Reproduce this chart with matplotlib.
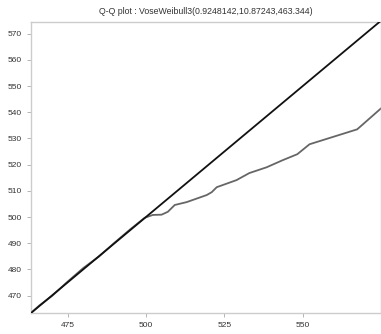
import numpy as np
import matplotlib
matplotlib.use("Agg")
import matplotlib.pyplot as plt

# distribution params
x_min = 463.344
x_max = 575.0

# theoretical quantiles vs. sample quantiles
qq_x = [463.3, 466, 470, 475, 480, 485, 490, 495, 499.6, 502.2, 505, 507, 509.2,
        513, 519.4, 521, 522.6, 528.9, 533, 538.5, 543.6, 548.3, 552.2, 567.4, 575]
qq_y = [463.3, 466.2, 469.8, 475.3, 480.5, 484.9, 490.2, 495.3, 499.7, 500.8, 500.9,
        502, 504.6, 505.7, 508.4, 509.5, 511.4, 514.1, 516.8, 519, 521.7, 524, 527.8,
        533.5, 541.5]

x_ticks = [475, 500, 525, 550]
y_ticks = [470, 480, 490, 500, 510, 520, 530, 540, 550, 560, 570]
title = "Q-Q plot : VoseWeibull3(0.9248142,10.87243,463.344)"

plt.rcParams['font.family'] = ['Liberation Sans', 'DejaVu Sans']

fig = plt.figure(figsize=(3.81, 3.34), dpi=100)
ax = fig.add_axes([31 / 381, 21 / 334, 350 / 381, 291 / 334])

ax.plot(qq_x, qq_y, color="#666666", lw=1.3, zorder=2)
ax.plot([x_min, x_max], [x_min, x_max], color="#111111", lw=1.3, zorder=3)

ax.set_xlim(x_min, x_max)
ax.set_ylim(x_min, 574.5)
ax.set_xticks(x_ticks)
ax.set_yticks(y_ticks)

for s in ax.spines.values():
    s.set_color("#cccccc")
    s.set_linewidth(1.0)

ax.tick_params(colors="#aaaaaa", labelcolor="#333333", labelsize=6, length=3, width=0.6)

# title centred over the plot area, not the whole figure
fig.text(206 / 381, 1 - 11 / 334, title, ha="center", va="center", fontsize=6.3, color="#333333")

fig.savefig("out.png", dpi=100)
